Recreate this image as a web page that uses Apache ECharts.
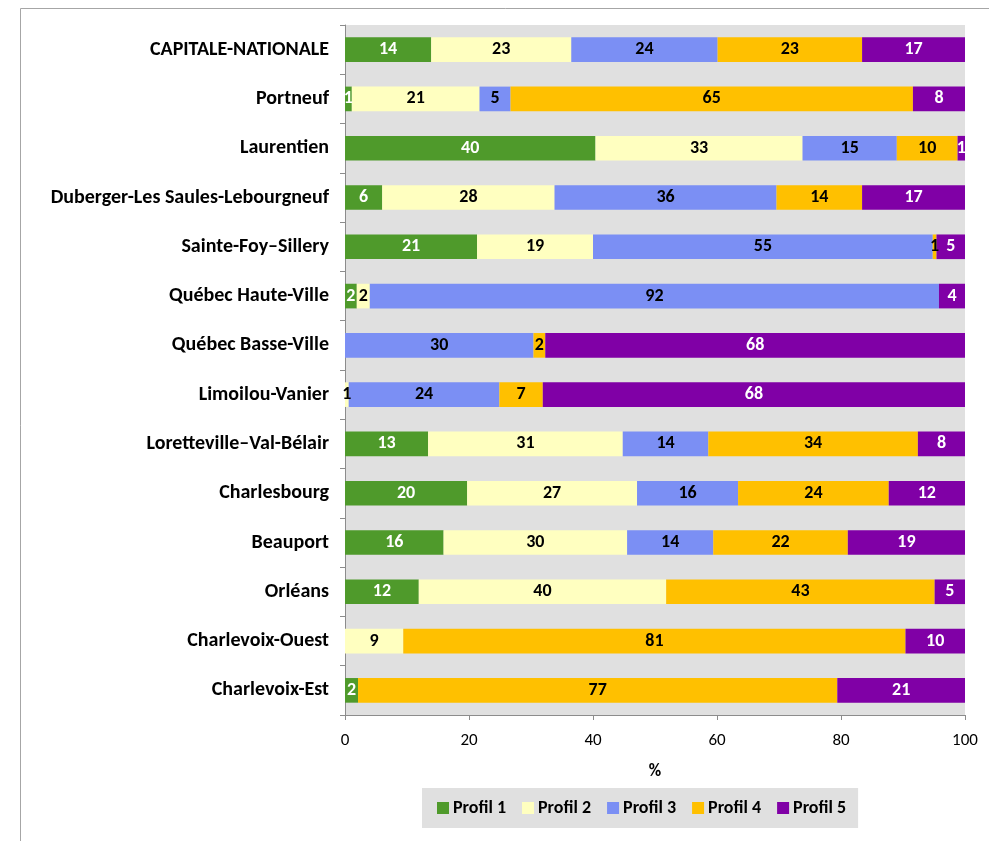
<!DOCTYPE html>
<html>
<head>
<meta charset="utf-8">
<script src="https://cdn.jsdelivr.net/npm/echarts@6/dist/echarts.min.js"></script>
<style>
  html, body { margin: 0; padding: 0; background: #fff; }
  #chart { width: 989px; height: 841px; }
</style>
</head>
<body>
<div id="chart"></div>
<script>
// regions, top to bottom
const regions = [
  "CAPITALE-NATIONALE", "Portneuf", "Laurentien", "Duberger-Les Saules-Lebourgneuf",
  "Sainte-Foy–Sillery", "Québec Haute-Ville", "Québec Basse-Ville", "Limoilou-Vanier",
  "Loretteville–Val-Bélair", "Charlesbourg", "Beauport", "Orléans",
  "Charlevoix-Ouest", "Charlevoix-Est"
];
const seriesNames = ["Profil 1", "Profil 2", "Profil 3", "Profil 4", "Profil 5"];
// % per profile
const profil1 = [13.9, 1.1, 40.4, 6.0, 21.3, 1.9, 0, 0, 13.4, 19.7, 15.9, 11.9, 0, 2.1];
const profil2 = [22.6, 20.6, 33.4, 27.8, 18.7, 2.1, 0, 0.6, 31.4, 27.4, 29.6, 39.9, 9.4, 0];
const profil3 = [23.6, 5.0, 15.2, 35.8, 54.8, 91.8, 30.4, 24.3, 13.8, 16.3, 13.9, 0, 0, 0];
const profil4 = [23.3, 64.9, 9.8, 13.8, 0.6, 0, 1.9, 7.0, 33.8, 24.3, 21.7, 43.3, 81.0, 77.3];
const profil5 = [16.6, 8.4, 1.2, 16.6, 4.6, 4.2, 67.7, 68.1, 7.6, 12.3, 18.9, 4.9, 9.6, 20.6];
const xTicks = [0, 20, 40, 60, 80, 100];

const colors = ["#4f9a2b", "#ffffc0", "#7b8ff4", "#ffc000", "#8000a6"];
const labelColors = ["#fff", "#000", "#000", "#000", "#fff"];
const font = "Carlito, 'Liberation Sans Narrow', 'Open Sans', sans-serif";

const myChart = echarts.init(document.getElementById("chart"));
const data = [profil1, profil2, profil3, profil4, profil5];

const option = {
  animation: false,
  textStyle: { fontFamily: font },
  graphic: [
    {
      type: "polyline",
      shape: { points: [[20.5, 900], [20.5, 8.5], [1000, 8.5]] },
      style: { stroke: "#a6a6a6", lineWidth: 1, fill: null }
    }
  ],
  legend: {
    data: seriesNames,
    bottom: 13,
    left: 422,
    backgroundColor: "#e0e0e0",
    padding: [11, 12, 11, 15],
    itemWidth: 12,
    itemHeight: 12,
    itemGap: 16,
    icon: "rect",
    textStyle: { fontFamily: font, fontWeight: "bold", fontSize: 18, color: "#000", padding: [0, 0, 0, -1] }
  },
  grid: {
    left: 345,
    right: 24,
    top: 25,
    bottom: 126,
    show: true,
    backgroundColor: "#e0e0e0",
    borderWidth: 0,
    containLabel: false
  },
  xAxis: {
    type: "value",
    min: 0,
    max: 100,
    interval: 20,
    name: "%",
    nameLocation: "middle",
    nameGap: 48,
    nameTextStyle: { fontFamily: font, fontWeight: "bold", fontSize: 17, color: "#000" },
    axisLine: { show: true, lineStyle: { color: "#8c8c8c" } },
    axisTick: { show: true, length: 5, lineStyle: { color: "#8c8c8c" } },
    axisLabel: {
      color: "#000",
      fontSize: 17,
      margin: 17,
      fontFamily: font,
      formatter: function (v) { return xTicks.indexOf(v) >= 0 ? v : ""; }
    },
    splitLine: { show: false }
  },
  yAxis: {
    type: "category",
    inverse: true,
    data: regions,
    axisLine: { show: true, lineStyle: { color: "#8c8c8c" } },
    axisTick: { show: true, inside: false, length: 5, lineStyle: { color: "#8c8c8c" } },
    axisLabel: { color: "#000", fontSize: 20, fontWeight: "bold", margin: 16, fontFamily: font },
    splitLine: { show: false }
  },
  series: data.map(function (vals, i) {
    return {
      name: seriesNames[i],
      type: "bar",
      stack: "total",
      barCategoryGap: "50%",
      data: vals,
      itemStyle: { color: colors[i] },
      label: {
        show: true,
        position: "inside",
        color: labelColors[i],
        fontWeight: "bold",
        fontSize: 18,
        fontFamily: font,
        formatter: function (p) {
          return p.value > 0 ? Math.round(p.value) : "";
        }
      }
    };
  })
};

myChart.setOption(option);
</script>
</body>
</html>
